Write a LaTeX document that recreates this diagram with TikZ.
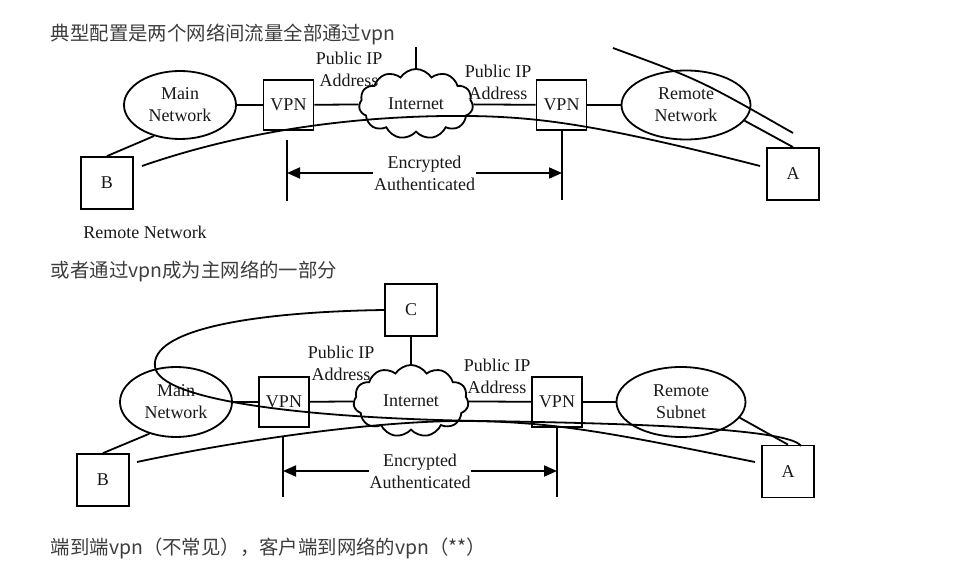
\documentclass[tikz,border=0pt]{standalone}
\usepackage{fontspec}
\setmainfont{Liberation Serif}
\newfontfamily\cjk{Noto Sans CJK SC}
\usepackage{tikz}
\usetikzlibrary{shapes.geometric,shapes.symbols,arrows.meta}
\definecolor{titlegray}{HTML}{3D3D3D}

\begin{document}
\begin{tikzpicture}[x=1pt,y=-1pt,line width=1.8pt,
	every node/.style={font=\fontsize{18}{22}\selectfont,text=black!90},
	title/.style={anchor=base west,inner sep=0pt,text=titlegray,font=\cjk\fontsize{19.4}{23}\selectfont},
	box/.style={draw,minimum size=#1,inner sep=0pt},
	net/.style={draw,ellipse,align=center,inner sep=0pt},
	inet/.style={draw,cloud,cloud puffs=11,cloud puff arc=115,aspect=1.6,inner sep=0pt,minimum width=114pt,minimum height=70pt},
	tag/.style={align=center,inner sep=0pt},
	enc/.style={{Triangle[length=13pt,width=11pt]}-{Triangle[length=13pt,width=11pt]}}]
	\useasboundingbox (0,0) rectangle (956,569);

	% first case
	\node[title] (t1) at (50,41) {典型配置是两个网络间流量全部通过vpn};
	\node[net,minimum width=112pt,minimum height=68pt] (mainnet) at (180,105) {Main\\Network};
	\node[box=50pt] (vpnL) at (288.5,105) {VPN};
	\node[inet] (cloudT) at (416,104) {Internet};
	\node[box=50pt] (vpnR) at (561.5,105) {VPN};
	\node[net,minimum width=129pt,minimum height=69pt] (remnet) at (686,105) {Remote\\Network};
	\node[box=52pt] (B) at (107,183) {B};
	\node[box=52pt] (A) at (793,174) {A};
	\node[tag] (pubL) at (349,69) {Public IP\\Address};
	\node[tag] (pubR) at (498,82) {Public IP\\Address};
	\node[inner sep=0pt] (rn) at (145,232) {Remote Network};
	\coordinate (upT) at (416,47);
	\coordinate (bstart) at (142,166);
	\coordinate (aend) at (760,166);
	\coordinate (far1) at (613,48);
	\coordinate (far2) at (793,133);
	\coordinate (tickL) at (287,140);
	\coordinate (tickR) at (562,130);
	\draw (mainnet) -- (vpnL);
	\draw (vpnL) -- (cloudT);
	\draw (cloudT) -- (vpnR);
	\draw (vpnR) -- (remnet);
	\draw (upT) -- (cloudT);
	\draw (B.north) -- (mainnet.230);
	\draw (A.north) -- (remnet.-15);
	\draw (far1) .. controls (700,80) .. (far2);
	\draw (bstart) .. controls (260,125) and (380,115) .. (470,116) .. controls (540,117) and (600,125) .. (aend);
	\draw (tickL) -- ++(0,61);
	\draw (tickR) -- ++(0,70);
	\draw[enc] (287,173) -- (562,173) node[midway,fill=white,align=center,inner sep=1pt] (encT) {Encrypted\\Authenticated};

	% second case
	\node[title] (t2) at (50,278) {或者通过vpn成为主网络的一部分};
	\node[net,minimum width=112pt,minimum height=70pt] (mainnet2) at (176,402) {Main\\Network};
	\node[box=50pt] (vpnL2) at (284,402) {VPN};
	\node[inet,minimum width=115pt,minimum height=72pt] (cloudB) at (411,401) {Internet};
	\node[box=50pt] (vpnR2) at (557,402) {VPN};
	\node[net,minimum width=129pt,minimum height=70pt] (remsub) at (681,402) {Remote\\Subnet};
	\node[box=52pt] (C) at (411,310) {C};
	\node[box=52pt] (B2) at (103,480) {B};
	\node[box=52pt] (A2) at (788,471.5) {A};
	\node[tag] (pubL2) at (341,363) {Public IP\\Address};
	\node[tag] (pubR2) at (497,376) {Public IP\\Address};
	\coordinate (bstart2) at (137,462);
	\coordinate (aend2) at (755,462);
	\coordinate (aloop) at (801,446);
	\coordinate (tickL2) at (283,437);
	\coordinate (tickR2) at (557,427);
	\draw (mainnet2) -- (vpnL2);
	\draw (vpnL2) -- (cloudB);
	\draw (cloudB) -- (vpnR2);
	\draw (vpnR2) -- (remsub);
	\draw (C) -- (cloudB);
	\draw (B2.north) -- (mainnet2.230);
	\draw (A2.north) -- (remsub.-15);
	\draw (C.west) .. controls (250,312) and (150,330) .. (155,367) .. controls (160,400) and (300,418) .. (480,421) .. controls (620,423) and (790,428) .. (aloop);
	\draw (bstart2) .. controls (240,440) and (380,420) .. (470,421) .. controls (560,422) and (620,435) .. (aend2);
	\draw (tickL2) -- ++(0,60);
	\draw (tickR2) -- ++(0,70);
	\draw[enc] (283,471) -- (557,471) node[midway,fill=white,align=center,inner sep=1pt] (encB) {Encrypted\\Authenticated};

	\node[title] (t3) at (50,554) {端到端vpn（不常见），客户端到网络的vpn（**）};
\end{tikzpicture}
\end{document}
